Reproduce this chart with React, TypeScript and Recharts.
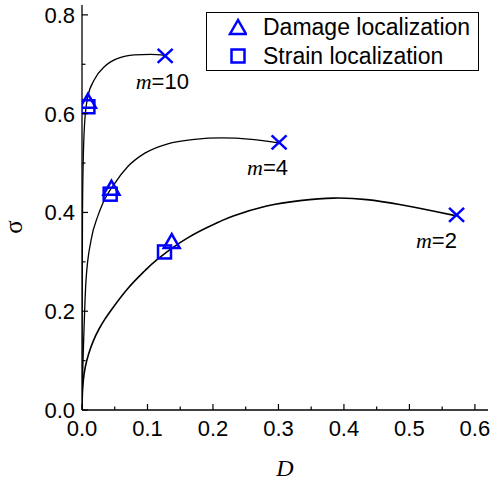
import { ComposedChart, Line, Scatter, XAxis, YAxis, Legend, ReferenceDot, Label } from "recharts"

// curves, one per Weibull modulus
const curveM2 = [
  { x: 0, y: 0 }, { x: 0.0005, y: 0.03 }, { x: 0.002, y: 0.06 }, { x: 0.005, y: 0.087 },
  { x: 0.01, y: 0.113 }, { x: 0.017, y: 0.139 }, { x: 0.026, y: 0.164 }, { x: 0.035, y: 0.184 },
  { x: 0.045, y: 0.203 }, { x: 0.07, y: 0.246 }, { x: 0.096, y: 0.282 }, { x: 0.116, y: 0.306 },
  { x: 0.162, y: 0.349 }, { x: 0.208, y: 0.38 }, { x: 0.231, y: 0.393 }, { x: 0.282, y: 0.413 },
  { x: 0.333, y: 0.424 }, { x: 0.384, y: 0.429 }, { x: 0.435, y: 0.426 }, { x: 0.485, y: 0.416 },
  { x: 0.536, y: 0.403 }, { x: 0.572, y: 0.393 },
]
const curveM4 = [
  { x: 0, y: 0 }, { x: 0.001, y: 0.07 }, { x: 0.003, y: 0.16 }, { x: 0.006, y: 0.26 },
  { x: 0.014, y: 0.345 }, { x: 0.024, y: 0.392 }, { x: 0.032, y: 0.419 }, { x: 0.05, y: 0.459 },
  { x: 0.07, y: 0.493 }, { x: 0.096, y: 0.52 }, { x: 0.131, y: 0.539 }, { x: 0.172, y: 0.548 },
  { x: 0.213, y: 0.551 }, { x: 0.259, y: 0.548 }, { x: 0.3, y: 0.541 },
]
const curveM10 = [
  { x: 0, y: 0 }, { x: 0.0002, y: 0.2 }, { x: 0.0008, y: 0.4 }, { x: 0.0015, y: 0.48 },
  { x: 0.004, y: 0.581 }, { x: 0.009, y: 0.635 }, { x: 0.019, y: 0.669 }, { x: 0.035, y: 0.696 },
  { x: 0.055, y: 0.712 }, { x: 0.08, y: 0.719 }, { x: 0.105, y: 0.72 }, { x: 0.127, y: 0.718 },
]

const damagePoints = [
  { x: 0.009, y: 0.622 }, { x: 0.045, y: 0.446 }, { x: 0.137, y: 0.338 },
]
const strainPoints = [
  { x: 0.009, y: 0.614 }, { x: 0.043, y: 0.437 }, { x: 0.126, y: 0.32 },
]
const failurePoints = [
  { x: 0.127, y: 0.717 }, { x: 0.301, y: 0.542 }, { x: 0.572, y: 0.395 },
]

const curveLabels = [
  { x: 0.082, y: 0.65, m: "10" },
  { x: 0.252, y: 0.475, m: "4" },
  { x: 0.51, y: 0.327, m: "2" },
]

const xTicks = [0, 0.05, 0.1, 0.15, 0.2, 0.25, 0.3, 0.35, 0.4, 0.45, 0.5, 0.55, 0.6]
const yTicks = [0, 0.1, 0.2, 0.3, 0.4, 0.5, 0.6, 0.7, 0.8]

const BLUE = "#0000ff"
const SANS = "Liberation Sans, Arial, sans-serif"
const SERIF = "Liberation Serif, Times New Roman, serif"

const isMajorX = (v: number) => Math.abs(v * 10 - Math.round(v * 10)) < 1e-6
const isMajorY = (v: number) => Math.abs(v * 5 - Math.round(v * 5)) < 1e-6

function BottomTick({ x, y, payload }: any) {
  const major = isMajorX(payload.value)
  return (
    <g>
      <line x1={x} y1={y} x2={x} y2={y - (major ? 6 : 3.5)} stroke="#000" strokeWidth={1.2} />
      {major && (
        <text x={x} y={y + 26} textAnchor="middle" fontSize={22} fontFamily={SANS} fill="#000">
          {payload.value.toFixed(1)}
        </text>
      )}
    </g>
  )
}
function TopTick({ x, y, payload }: any) {
  const major = isMajorX(payload.value)
  return <line x1={x} y1={y} x2={x} y2={y + (major ? 6 : 3.5)} stroke="#000" strokeWidth={1.2} />
}
function LeftTick({ x, y, payload }: any) {
  const major = isMajorY(payload.value)
  return (
    <g>
      <line x1={x} y1={y} x2={x + (major ? 6 : 3.5)} y2={y} stroke="#000" strokeWidth={1.2} />
      {major && (
        <text x={x - 7} y={y + 8} textAnchor="end" fontSize={22} fontFamily={SANS} fill="#000">
          {payload.value.toFixed(1)}
        </text>
      )}
    </g>
  )
}
function RightTick({ x, y, payload }: any) {
  const major = isMajorY(payload.value)
  return <line x1={x} y1={y} x2={x - (major ? 6 : 3.5)} y2={y} stroke="#000" strokeWidth={1.2} />
}

function Triangle({ cx, cy }: any) {
  return (
    <polygon
      points={`${cx},${cy - 9} ${cx - 8},${cy + 5} ${cx + 8},${cy + 5}`}
      fill="none" stroke={BLUE} strokeWidth={2.5} strokeLinejoin="miter"
    />
  )
}
function Square({ cx, cy }: any) {
  return <rect x={cx - 6.5} y={cy - 6.5} width={13} height={13} fill="none" stroke={BLUE} strokeWidth={2.5} />
}
function Cross({ cx, cy }: any) {
  return (
    <g stroke={BLUE} strokeWidth={2.5}>
      <line x1={cx - 7.5} y1={cy - 7} x2={cx + 7.5} y2={cy + 7} />
      <line x1={cx - 7.5} y1={cy + 7} x2={cx + 7.5} y2={cy - 7} />
    </g>
  )
}

function CurveLabel({ viewBox, m }: any) {
  return (
    <text x={viewBox.x} y={viewBox.y} fontSize={22} fill="#000">
      <tspan fontFamily={SERIF} fontStyle="italic">m</tspan>
      <tspan fontFamily={SANS}>={m}</tspan>
    </text>
  )
}

function LegendBox() {
  const row = (icon: any, text: string) => (
    <div style={{ display: "flex", alignItems: "center", height: 29 }}>
      <svg width={40} height={29}>{icon}</svg>
      <span style={{ fontFamily: SANS, fontSize: 23, color: "#000", marginLeft: 16 }}>{text}</span>
    </div>
  )
  return (
    <div style={{ border: "1px solid #000", width: 273, height: 59, boxSizing: "border-box", background: "#fff" }}>
      {row(<Triangle cx={31} cy={16} />, "Damage localization")}
      {row(<Square cx={31} cy={14} />, "Strain localization")}
    </div>
  )
}

export default function App() {
  return (
    <div style={{ position: "absolute", left: 0, top: 0, width: 492, height: 482, background: "#fff" }}>
      <ComposedChart width={492} height={482} margin={{ top: 5, right: 4, left: 0, bottom: 0 }}>
        <XAxis
          type="number" dataKey="x" domain={[0, 0.62]} ticks={xTicks} interval={0}
          height={72} tickSize={0} tickMargin={0} tick={<BottomTick />}
          axisLine={{ stroke: "#000", strokeWidth: 1.3 }} allowDataOverflow
        >
          <Label
            content={({ viewBox }: any) => (
              <text x={viewBox.x + viewBox.width / 2} y={viewBox.y + 66} textAnchor="middle"
                fontFamily={SERIF} fontStyle="italic" fontSize={24} fill="#000">D</text>
            )}
          />
        </XAxis>
        <XAxis
          xAxisId="top" orientation="top" type="number" dataKey="x" domain={[0, 0.62]} ticks={xTicks}
          interval={0} height={0} tickSize={0} tickMargin={0} tick={<TopTick />}
          axisLine={{ stroke: "#000", strokeWidth: 1.3 }} allowDataOverflow
        />
        <YAxis
          type="number" dataKey="y" domain={[0, 0.82]} ticks={yTicks} interval={0}
          width={82} tickSize={0} tickMargin={0} tick={<LeftTick />}
          axisLine={{ stroke: "#000", strokeWidth: 1.3 }} allowDataOverflow
        >
          <Label
            content={() => (
              <text x={22} y={227} textAnchor="middle" transform="rotate(-90 22 227)"
                fontFamily={SERIF} fontSize={25} fill="#000">σ</text>
            )}
          />
        </YAxis>
        <YAxis
          yAxisId="right" orientation="right" type="number" dataKey="y" domain={[0, 0.82]} ticks={yTicks}
          interval={0} width={0} tickSize={0} tickMargin={0} tick={<RightTick />}
          axisLine={{ stroke: "#000", strokeWidth: 1.3 }} allowDataOverflow
        />
        <Legend
          layout="horizontal" verticalAlign="middle" align="center"
          wrapperStyle={{ top: 12, left: 206, width: 273 }}
          content={() => <LegendBox />}
        />
        <Line data={curveM2} dataKey="y" type="natural" stroke="#000" strokeWidth={1.6} dot={false} isAnimationActive={false} legendType="none" />
        <Line data={curveM4} dataKey="y" type="monotone" stroke="#000" strokeWidth={1.3} dot={false} isAnimationActive={false} legendType="none" />
        <Line data={curveM10} dataKey="y" type="monotone" stroke="#000" strokeWidth={1.3} dot={false} isAnimationActive={false} legendType="none" />
        <Scatter data={strainPoints} dataKey="y" shape={<Square />} isAnimationActive={false} />
        <Scatter data={damagePoints} dataKey="y" shape={<Triangle />} isAnimationActive={false} />
        <Scatter data={failurePoints} dataKey="y" shape={<Cross />} isAnimationActive={false} />
        {curveLabels.map((l) => (
          <ReferenceDot key={l.m} x={l.x} y={l.y} r={0} fill="none" stroke="none"
            label={<CurveLabel m={l.m} />} />
        ))}
      </ComposedChart>
    </div>
  )
}
